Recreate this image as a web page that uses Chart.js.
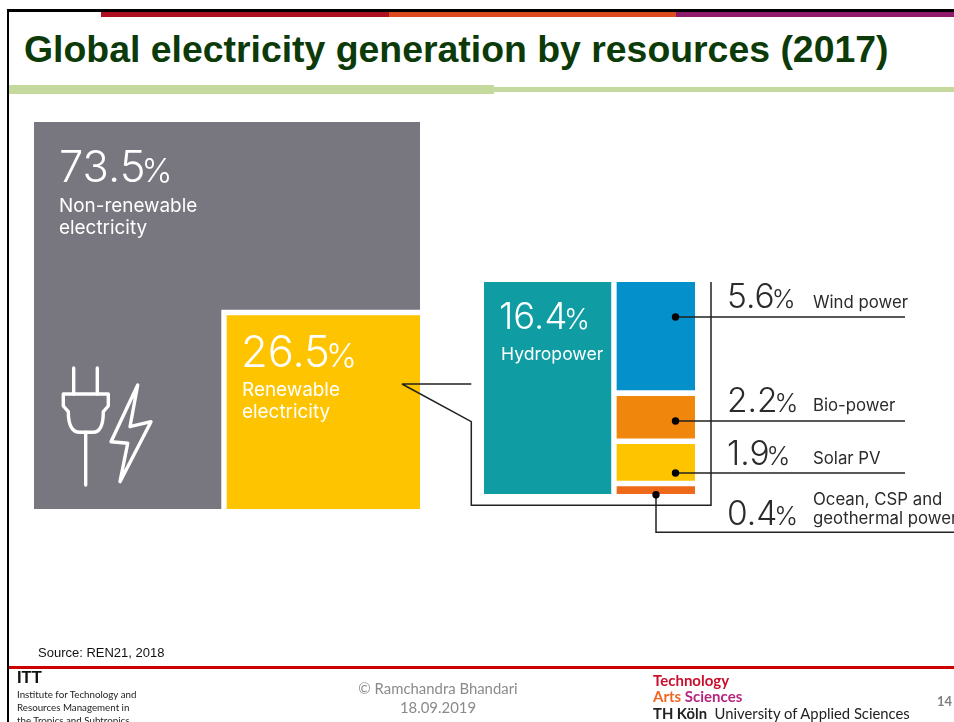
<!DOCTYPE html>
<html>
<head>
<meta charset="utf-8">
<title>Global electricity generation by resources (2017)</title>
<script src="https://cdn.jsdelivr.net/npm/chart.js@4"></script>
<style>
    html, body { margin: 0; padding: 0; background: #fff; }
    body { position: relative; width: 954px; height: 722px; overflow: hidden; font-family: "Liberation Sans", sans-serif; }
    .abs, canvas, svg { position: absolute; }
    .txt { position: absolute; white-space: nowrap; }
    .num { font-family: Inter, sans-serif; font-weight: 300; line-height: 1; }
    .num small { font-size: 0.76em; margin-left: -0.12em; }
    .name { font-family: Inter, sans-serif; font-weight: 400; }
    .white { color: #fff; }
    .dark { color: #2b2b2b; }
    .foot { font-family: Lato, sans-serif; }
</style>
</head>
<body>

<!-- slide frame -->
<div class="abs" style="left:6px;top:8.5px;width:948px;height:0.8px;background:#ddd"></div>
<div class="abs" style="left:7px;top:9px;width:947px;height:2.6px;background:#000"></div>
<div class="abs" style="left:7px;top:9px;width:2.3px;height:713px;background:#000"></div>
<div class="abs" style="left:101px;top:11.6px;width:288px;height:5.4px;background:#ad0f21"></div>
<div class="abs" style="left:389px;top:11.6px;width:287px;height:5.4px;background:#dc4a1e"></div>
<div class="abs" style="left:676px;top:11.6px;width:278px;height:5.4px;background:#8f1a6c"></div>

<div class="txt" id="title" style="left:24px;top:27px;font-size:37.4px;font-weight:bold;color:#0c3a08;line-height:44px">Global electricity generation by resources (2017)</div>
<div class="abs" style="left:9px;top:85px;width:485px;height:9px;background:#c5d89e"></div>
<div class="abs" style="left:494px;top:87px;width:460px;height:5px;background:#c5d89e"></div>

<canvas id="shareChart" width="386" height="387" style="left:34px;top:122px"></canvas>
<canvas id="renewChart" width="211" height="212" style="left:484px;top:282px"></canvas>

<!-- connectors, leaders and the plug icon -->
<svg width="954" height="722" style="left:0;top:0">
    <g fill="none" stroke="#222" stroke-width="1.5">
        <path d="M471.3 384H402L471.3 421.7V505.3H711V282"/>
        <path d="M675.5 317H905M675.5 421H905M675.5 473H905"/>
        <path d="M656 494.7V532.3H954"/>
    </g>
    <g fill="#000">
        <circle cx="675.5" cy="317" r="3.7"/>
        <circle cx="675.5" cy="421" r="3.7"/>
        <circle cx="675.5" cy="473" r="3.7"/>
        <circle cx="656" cy="494.7" r="3.7"/>
    </g>
    <g fill="none" stroke="#fff" stroke-width="3.4" stroke-linecap="round" stroke-linejoin="round">
        <path d="M73.7 368V394M97.3 368V394"/>
        <path d="M63.3 394H108.3V406L103.3 411.7C103.3 424 101 432.3 93 432.3H80C71 432.3 68.3 424 68.3 411.7L63.3 406Z"/>
        <path d="M85.7 432.3V485"/>
        <path d="M137.7 385L111 441.7L127.7 443.3L120 481.7L151 421.7L130 426.7Z"/>
    </g>
</svg>

<!-- value labels on the cells -->
<div class="txt num white" id="nonVal" style="left:59px;top:145px;font-size:43.5px"></div>
<div class="txt name white" id="nonName" style="left:59px;top:195px;font-size:18.9px;line-height:22px;white-space:normal;width:150px"></div>
<div class="txt num white" id="renVal" style="left:241px;top:330px;font-size:43.5px"></div>
<div class="txt name white" id="renName" style="left:242px;top:379px;font-size:18.9px;line-height:22px;white-space:normal;width:110px"></div>
<div class="txt num white" id="hydroVal" style="left:499px;top:298px;font-size:36.5px"></div>
<div class="txt name white" id="hydroName" style="left:501px;top:343px;font-size:17.6px;line-height:22px"></div>

<div class="txt num dark" id="val0" style="left:727px;top:280px;font-size:33.5px"></div>
<div class="txt num dark" id="val1" style="left:727px;top:384px;font-size:33.5px"></div>
<div class="txt num dark" id="val2" style="left:727px;top:437px;font-size:33.5px"></div>
<div class="txt num dark" id="val3" style="left:727px;top:497px;font-size:33.5px"></div>
<div class="txt name dark" id="name0" style="left:813px;top:292px;font-size:16.8px;line-height:20px"></div>
<div class="txt name dark" id="name1" style="left:813px;top:395px;font-size:16.8px;line-height:20px"></div>
<div class="txt name dark" id="name2" style="left:813px;top:448px;font-size:16.8px;line-height:20px"></div>
<div class="txt name dark" id="name3" style="left:813px;top:490px;font-size:16.8px;line-height:18.5px"></div>

<!-- footer -->
<div class="txt" style="left:38px;top:645px;font-size:13px;line-height:16px;color:#111">Source: REN21, 2018</div>
<div class="abs" style="left:9px;top:665.5px;width:945px;height:3px;background:#cc0000"></div>
<div class="txt" style="left:17px;top:668px;font-size:16.5px;font-weight:bold;line-height:19px;color:#111">ITT</div>
<div class="txt foot" style="left:17px;top:688px;font-size:9.75px;line-height:13px;color:#222">Institute for Technology and<br>Resources Management in<br>the Tropics and Subtropics</div>
<div class="txt foot" style="left:338px;top:679px;width:200px;text-align:center;font-size:14.9px;line-height:19px;color:#8a8a8a">© Ramchandra Bhandari<br>18.09.2019</div>
<div class="txt foot" style="left:653px;top:672px;font-size:15px;font-weight:700;line-height:16px;color:#c8102e">Technology</div>
<div class="txt foot" style="left:653px;top:688px;font-size:15px;font-weight:700;line-height:16px;color:#f26522">Arts <span style="color:#b5267f">Sciences</span></div>
<div class="txt foot" style="left:653px;top:705px;font-size:14.8px;line-height:17px;color:#222"><b>TH Köln</b>&nbsp; University of Applied Sciences</div>
<div class="txt foot" style="left:937px;top:694px;font-size:13px;font-weight:700;line-height:15px;color:#808080">14</div>

<script>
// shares of total generation, in percent
const shareNames = ['Non-renewable electricity', 'Renewable electricity'];
const shareValues = [73.5, 26.5];
const shareColors = ['#78767f', '#fec400'];

// split of the renewable share
const hydroName = 'Hydropower';
const hydroValue = 16.4;
const hydroColor = '#0f9ca3';
const otherNames = ['Wind power', 'Bio-power', 'Solar PV', 'Ocean, CSP and geothermal power'];
const otherValues = [5.6, 2.2, 1.9, 0.4];
const otherColors = ['#0491cb', '#f0860b', '#fec400', '#ee6a1a'];

function pct(v) {
    return v + '<small>%</small>';
}

// one filled rectangle, in axis units
function cell(label, x0, x1, y0, y1, color) {
    return {
        label: label,
        type: 'scatter',
        showLine: true,
        fill: 'shape',
        backgroundColor: color,
        borderWidth: 0,
        pointRadius: 0,
        data: [{x: x0, y: y0}, {x: x1, y: y0}, {x: x1, y: y1}, {x: x0, y: y1}, {x: x0, y: y0}]
    };
}

function createCells(id, datasets, xMax, yMax) {
    return new Chart(document.getElementById(id), {
        type: 'scatter',
        data: {datasets: datasets},
        options: {
            responsive: false,
            animation: false,
            layout: {padding: 0},
            plugins: {legend: {display: false}, tooltip: {enabled: false}},
            scales: {
                x: {type: 'linear', display: false, min: 0, max: xMax},
                y: {type: 'linear', display: false, min: 0, max: yMax, reverse: true}
            }
        }
    });
}

// outer square has area 100, so its side is 10 and the inner one is sqrt(26.5)
const side = Math.sqrt(shareValues[0] + shareValues[1]);
const renewSide = Math.sqrt(shareValues[1]);
const gutter = 0.14;
createCells('shareChart', [
    cell(shareNames[1], side - renewSide + gutter, side, side - renewSide + gutter, side, shareColors[1]),
    cell('white gap', side - renewSide, side, side - renewSide, side, '#ffffff'),
    cell(shareNames[0], 0, side, 0, side, shareColors[0])
], side, side);

// hydro column and the stacked column of the rest, both scaled by value
const xGap = 0.7;
const yGap = 0.285;
const otherTotal = otherValues.reduce((a, b) => a + b, 0);
const rightStart = hydroValue + xGap;
const yMax = otherTotal + yGap * (otherValues.length - 1);

const renewCells = [cell(hydroName, 0, hydroValue, 0, yMax, hydroColor)];
let stackTop = 0;
otherValues.forEach((v, i) => {
    renewCells.push(cell(otherNames[i], rightStart, rightStart + otherTotal, stackTop, stackTop + v, otherColors[i]));
    stackTop += v + yGap;
});
createCells('renewChart', renewCells, rightStart + otherTotal, yMax);

// text comes from the same arrays
document.getElementById('nonVal').innerHTML = pct(shareValues[0]);
document.getElementById('nonName').textContent = shareNames[0];
document.getElementById('renVal').innerHTML = pct(shareValues[1]);
document.getElementById('renName').textContent = shareNames[1];
document.getElementById('hydroVal').innerHTML = pct(hydroValue);
document.getElementById('hydroName').textContent = hydroName;
otherValues.forEach((v, i) => {
    document.getElementById('val' + i).innerHTML = pct(v.toFixed(1));
    document.getElementById('name' + i).textContent = otherNames[i];
});
document.getElementById('name3').innerHTML = 'Ocean, CSP and<br>geothermal power';
</script>
</body>
</html>
